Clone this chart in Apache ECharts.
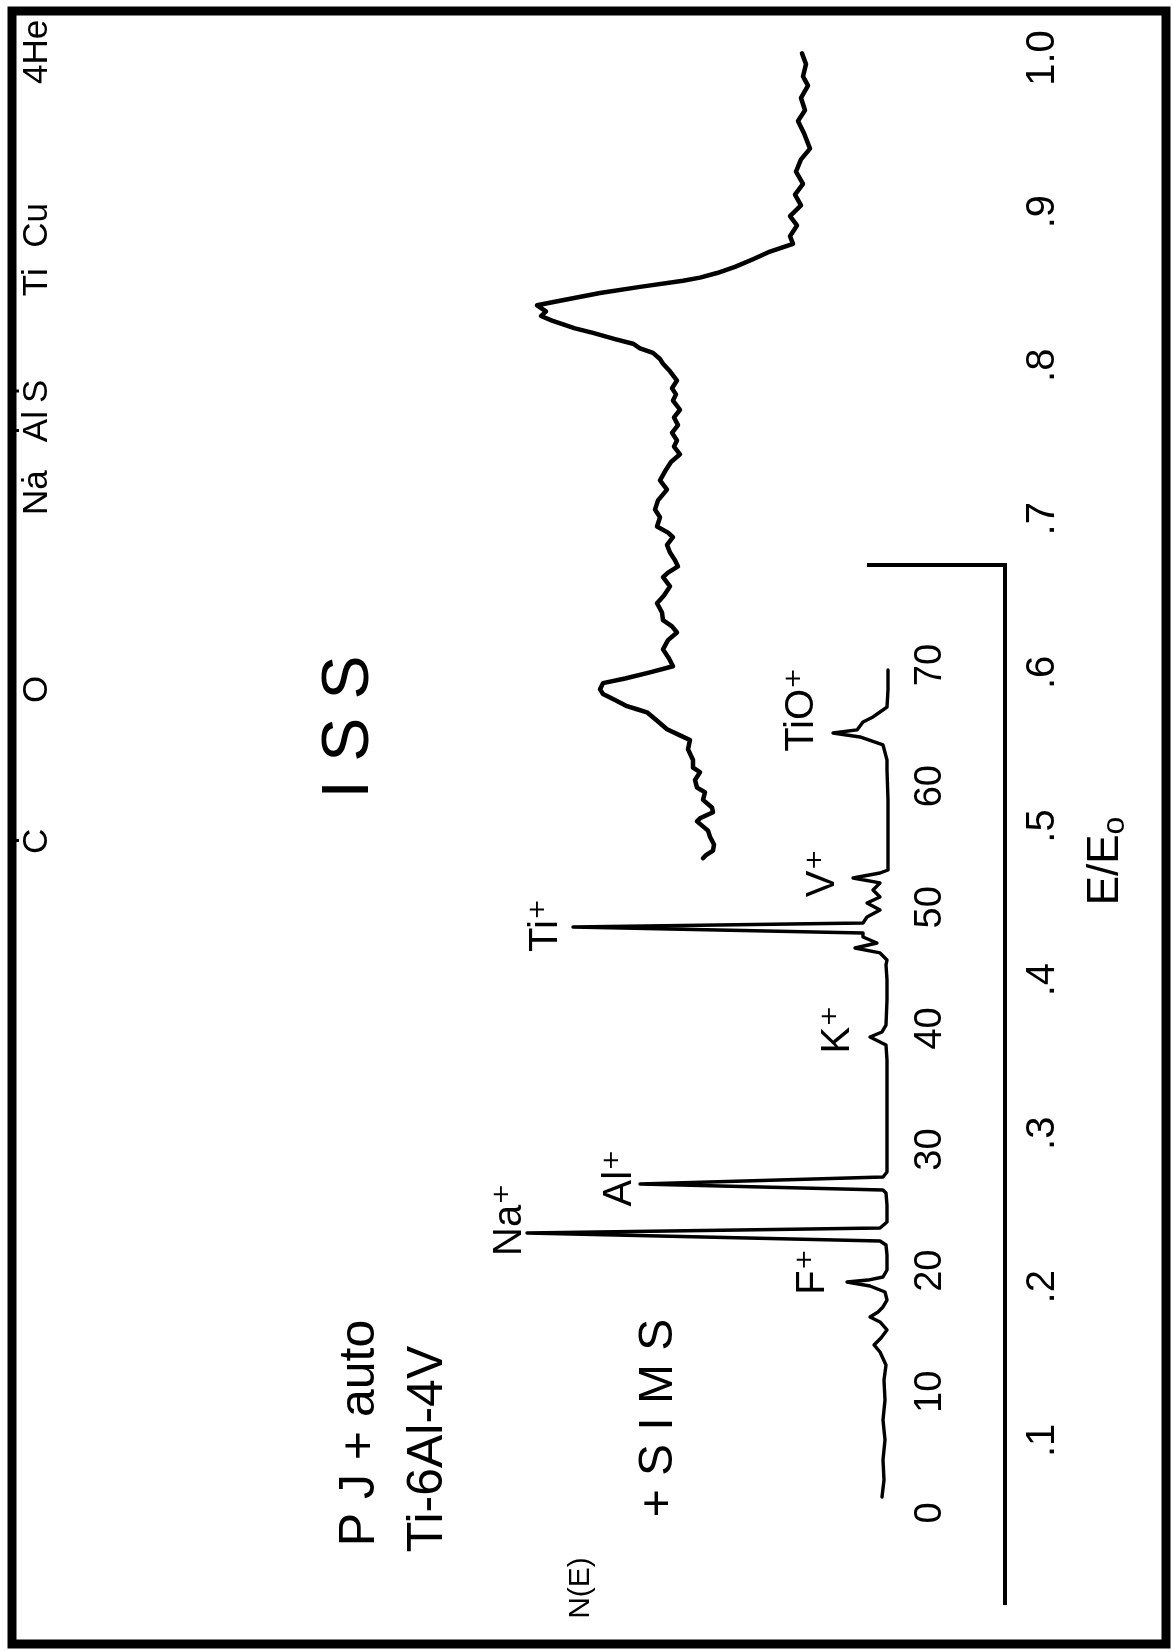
<!DOCTYPE html>
<html>
<head>
<meta charset="utf-8">
<script src="https://cdn.jsdelivr.net/npm/echarts@6/dist/echarts.min.js"></script>
<style>
  html, body { margin: 0; padding: 0; background: #fff; }
  #chart { width: 1172px; height: 1651px; }
</style>
</head>
<body>
<div id="chart"></div>
<script>
const FONT = '"Liberation Sans", "DejaVu Sans", Arial, sans-serif';

// ISS spectrum (4He scattering): N(E) against E/E0 from top to bottom
const issIntensity = [
  20.3, 19.9, 20.2, 19.7, 20.4, 20.0, 20.7, 20.1, 19.5, 20.4, 20.9, 20.2, 21.0, 20.4, 21.5, 20.8, 21.5, 21.2,
  23.5, 25.2, 27.0, 28.8, 30.5, 32.2, 36.5, 40.5, 44.5, 46.8, 45.9, 46.4, 45.3, 43.0, 41.2, 39.0, 37.2, 36.5,
  35.2, 34.5, 34.2, 33.5, 32.8, 33.3, 32.9, 33.2, 32.5, 33.1, 32.7, 33.3, 32.8, 33.1,
  32.5, 33.4, 33.9, 34.5, 33.8, 34.7, 35.0, 34.5, 34.8, 33.7, 33.2, 33.8, 33.5, 33.0, 32.7, 33.7, 34.2, 33.5,
  34.1, 34.8, 34.3, 34.2, 33.3, 32.8, 33.7, 34.2, 33.6, 33.2,
  35.5, 38.0, 40.2, 40.5, 40.2, 39.0, 37.8, 36.8, 35.8, 34.7, 33.8, 32.5, 31.5, 31.7, 31.2, 31.2, 30.5, 31.0,
  30.8, 30.0, 30.2, 29.3, 29.2, 30.5, 30.8, 29.7, 29.5, 29.1, 29.2, 29.9, 30.2
];
const issEnergy = [
  1.003, 0.996, 0.988, 0.982, 0.974, 0.966, 0.959, 0.951, 0.941, 0.934, 0.926, 0.918, 0.911, 0.904, 0.897, 0.891, 0.884, 0.879,
  0.874, 0.869, 0.864, 0.860, 0.857, 0.855, 0.851, 0.847, 0.842, 0.839, 0.835, 0.832, 0.829, 0.824, 0.821, 0.817, 0.814, 0.811,
  0.808, 0.804, 0.801, 0.796, 0.790, 0.785, 0.781, 0.777, 0.771, 0.766, 0.761, 0.756, 0.751, 0.747,
  0.742, 0.737, 0.732, 0.725, 0.719, 0.712, 0.706, 0.701, 0.695, 0.691, 0.688, 0.683, 0.678, 0.673, 0.669, 0.665, 0.662, 0.656,
  0.650, 0.645, 0.639, 0.634, 0.630, 0.626, 0.621, 0.615, 0.609, 0.604,
  0.600, 0.596, 0.593, 0.589, 0.586, 0.582, 0.578, 0.576, 0.574, 0.568, 0.563, 0.559, 0.556, 0.550, 0.543, 0.538, 0.535, 0.530,
  0.525, 0.522, 0.517, 0.512, 0.509, 0.505, 0.503, 0.497, 0.493, 0.488, 0.484, 0.481, 0.479
];

// +SIMS spectrum: N(E) against mass, read from low mass (bottom) to high mass (top)
const simsIntensity = [
  12.3, 12.1, 12.2, 12.0, 12.2, 12.0, 12.1, 11.9, 12.5, 13.1, 12.4, 11.8, 12.5, 13.5, 12.7, 12.2, 11.8, 12.0,
  13.5, 15.8, 13.7, 12.2, 11.8, 11.8, 11.9, 12.5, 47.8, 12.5, 11.8, 11.8, 11.9, 12.2, 36.5, 12.2, 11.8, 11.8,
  11.8, 11.8, 11.8, 11.9, 13.5, 12.3, 11.9, 11.8, 11.8, 11.9, 11.8, 12.5, 15.0, 12.8, 14.2, 14.2, 43.2, 14.2,
  13.8, 12.5, 13.8, 12.5, 13.2, 12.5, 15.2, 12.5, 11.7, 11.7, 11.7, 11.7, 11.8, 11.8, 12.2, 14.5, 17.2, 14.8,
  14.2, 13.2, 12.5, 11.8, 11.7, 11.7
];
const simsMass = [
  1.32, 2.72, 4.38, 6.03, 7.68, 9.33, 10.98, 12.22, 13.29, 13.87, 14.45, 15.11, 15.77, 16.18, 16.59, 17.01, 17.58, 18.24,
  18.74, 19.07, 19.23, 19.48, 20.06, 21.30, 22.12, 22.45, 23.11, 23.53, 24.02, 25.42, 26.42, 26.66, 27.16, 27.74, 28.15, 29.97,
  32.44, 34.92, 37.39, 38.63, 39.29, 39.71, 40.28, 42.35, 44.00, 45.24, 45.65, 46.23, 46.64, 47.05, 47.55, 47.88, 48.37, 48.70,
  49.20, 49.78, 50.36, 50.85, 51.43, 52.01, 52.42, 52.83, 53.08, 53.90, 56.38, 58.86, 61.33, 62.16, 63.40, 64.06, 64.39, 64.64,
  65.30, 65.71, 66.12, 66.53, 67.94, 69.59
];

// element markers along the top, at their E/E0 positions
const elementNames = ['4He', 'Cu', 'Ti', 'Ṡ', 'Ȧl', 'Nȧ', 'O', 'Ċ'];
const elementEnergy = [1.004, 0.891, 0.854, 0.783, 0.760, 0.717, 0.589, 0.490];
const elementIntensity = [96.8, 96.8, 96.8, 96.8, 96.8, 96.8, 96.8, 96.8];

// SIMS peak labels
const peakNames = ['F⁺', 'Na⁺', 'Al⁺', 'K⁺', 'Ti⁺', 'V⁺', 'TiO⁺'];
const peakMass = [19.9, 24.2, 27.65, 39.9, 48.5, 52.8, 66.3];
const peakIntensity = [19.2, 49.5, 38.5, 16.7, 45.9, 18.2, 20.3];

const energyTickLabels = ['', '.1', '.2', '.3', '.4', '.5', '.6', '.7', '.8', '.9', '1.0'];

const chart = echarts.init(document.getElementById('chart'), null, { renderer: 'canvas' });

const rotatedText = (x, y, text, size) => ({
  type: 'text',
  x: x,
  y: y,
  rotation: Math.PI / 2,
  silent: true,
  style: {
    text: text,
    x: 0,
    y: 0,
    fill: '#000',
    font: size + 'px ' + FONT,
    align: 'center',
    verticalAlign: 'middle',
    textAlign: 'center',
    textVerticalAlign: 'middle'
  }
});

const option = {
  backgroundColor: '#fff',
  animation: false,
  grid: [
    { left: 5, right: 167, top: 58, bottom: 57 },
    { left: 5, right: 167, top: 665, bottom: 138 }
  ],
  xAxis: [
    { gridIndex: 0, type: 'value', min: 0, max: 100, inverse: true, show: false },
    { gridIndex: 1, type: 'value', min: 0, max: 100, inverse: true, show: false }
  ],
  yAxis: [
    {
      gridIndex: 0,
      type: 'value',
      min: 0,
      max: 1,
      interval: 0.1,
      position: 'right',
      axisLine: { show: false },
      axisTick: { show: false },
      splitLine: { show: false },
      axisLabel: {
        rotate: 90,
        margin: 18,
        color: '#000',
        fontSize: 40,
        fontFamily: FONT,
        formatter: (v) => energyTickLabels[Math.round(v * 10)]
      },
      name: '{e|E}{sl|/}{e|E}{o|o}',
      nameLocation: 'middle',
      nameRotate: 90,
      nameGap: 76,
      nameTextStyle: {
        padding: [0, 70, 0, 0],
        rich: {
          e: { fontSize: 44, fontFamily: FONT, color: '#000' },
          sl: { fontSize: 44, fontFamily: FONT, color: '#000' },
          o: { fontSize: 32, fontFamily: FONT, color: '#000', verticalAlign: 'bottom', padding: [18, 0, 0, 0] }
        }
      }
    },
    {
      gridIndex: 1,
      type: 'value',
      min: 0,
      max: 70,
      interval: 10,
      position: 'right',
      axisLine: { show: false },
      axisTick: { show: false },
      splitLine: { show: false },
      axisLabel: {
        inside: true,
        rotate: 90,
        margin: 55,
        color: '#000',
        fontSize: 38,
        fontFamily: FONT
      }
    }
  ],
  graphic: [
    {
      type: 'rect',
      silent: true,
      shape: { x: 12, y: 11, width: 1154, height: 1633 },
      style: { fill: 'none', stroke: '#000', lineWidth: 9 }
    },
    {
      type: 'polyline',
      silent: true,
      shape: { points: [[867, 565], [1005, 565], [1005, 1605]] },
      style: { fill: 'none', stroke: '#000', lineWidth: 4 }
    },
    rotatedText(350, 727, 'I S S', 66),
    rotatedText(360, 1433, 'P J + auto', 50),
    rotatedText(428, 1449, 'Ti-6Al-4V', 50),
    rotatedText(659, 1418, '+ S I M S', 48),
    rotatedText(581, 1588, 'N(E)', 30)
  ],
  series: [
    {
      name: 'ISS',
      type: 'line',
      xAxisIndex: 0,
      yAxisIndex: 0,
      data: issIntensity.map((v, i) => [v, issEnergy[i]]),
      showSymbol: false,
      smooth: false,
      clip: false,
      lineStyle: { color: '#000', width: 4.5, join: 'round', cap: 'round' }
    },
    {
      name: '+SIMS',
      type: 'line',
      xAxisIndex: 1,
      yAxisIndex: 1,
      data: simsIntensity.map((v, i) => [v, simsMass[i]]),
      showSymbol: false,
      smooth: false,
      clip: false,
      lineStyle: { color: '#000', width: 3.4, join: 'round', cap: 'round' }
    },
    {
      name: 'elements',
      type: 'scatter',
      xAxisIndex: 0,
      yAxisIndex: 0,
      clip: false,
      silent: true,
      symbolSize: 0,
      itemStyle: { color: '#000', opacity: 1 },
      data: elementNames.map((n, i) => ({ name: n, value: [elementIntensity[i], elementEnergy[i]] })),
      label: {
        show: true,
        position: 'inside',
        rotate: 90,
        formatter: '{b}',
        color: '#000',
        fontSize: 35,
        fontFamily: FONT
      }
    },
    {
      name: 'peaks',
      type: 'scatter',
      xAxisIndex: 1,
      yAxisIndex: 1,
      clip: false,
      silent: true,
      symbolSize: 0,
      itemStyle: { color: '#000', opacity: 1 },
      data: peakNames.map((n, i) => ({ name: n, value: [peakIntensity[i], peakMass[i]] })),
      label: {
        show: true,
        position: 'inside',
        rotate: 90,
        formatter: '{b}',
        color: '#000',
        fontSize: 40,
        fontFamily: FONT
      }
    }
  ]
};

chart.setOption(option);
window.addEventListener('resize', () => chart.resize());
</script>
</body>
</html>
